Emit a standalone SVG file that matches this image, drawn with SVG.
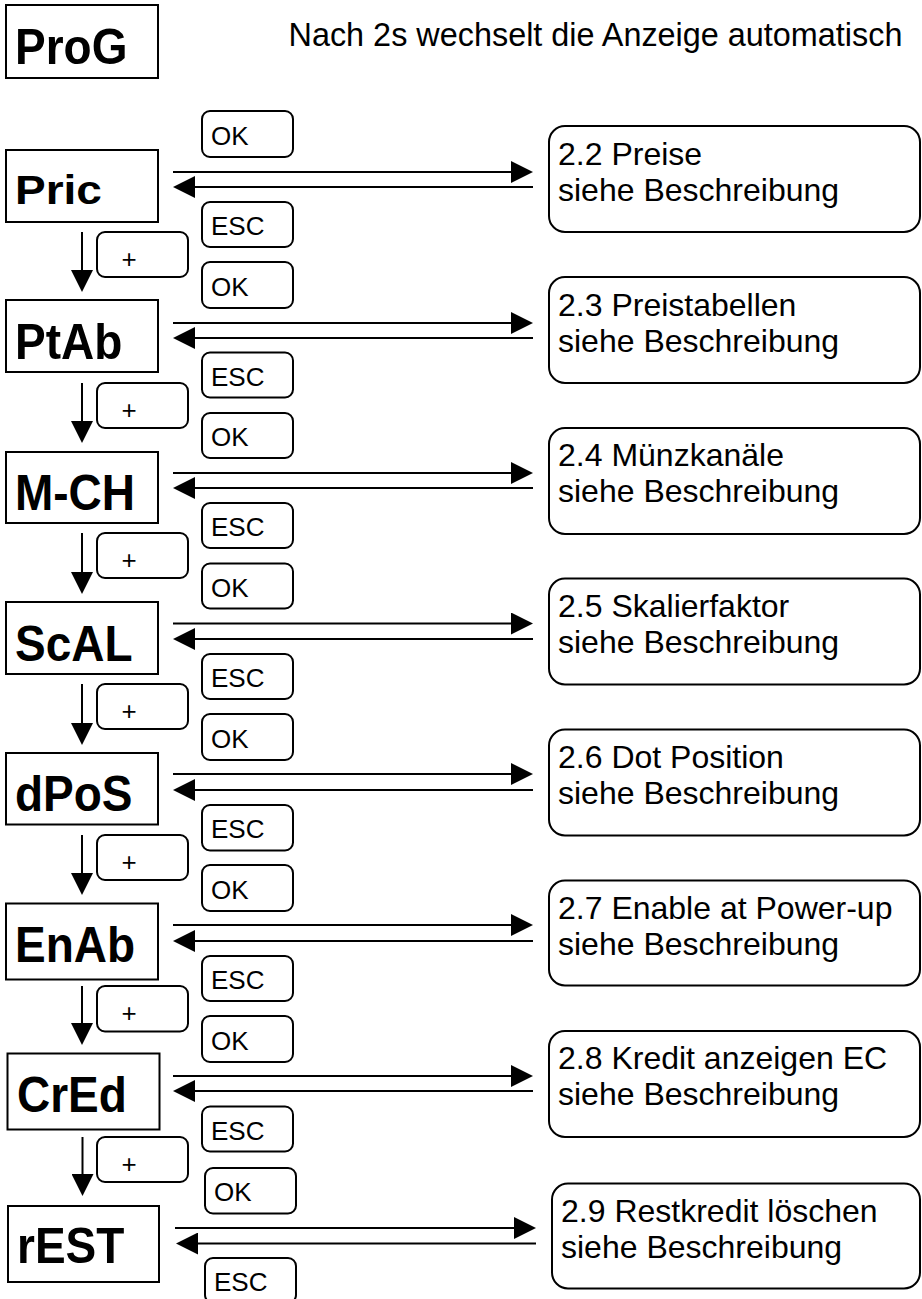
<svg xmlns="http://www.w3.org/2000/svg" width="922" height="1299" viewBox="0 0 922 1299">
<style>
.bg{fill:#fff}
.nb{fill:#fff;stroke:#000;stroke-width:2}
.btn{fill:#fff;stroke:#000;stroke-width:2}
.desc{fill:#fff;stroke:#000;stroke-width:2}
.nt{font-family:"Liberation Sans",Arial,sans-serif;font-weight:bold;font-size:46px;fill:#000}
.bt{font-family:"Liberation Sans",Arial,sans-serif;font-size:26px;fill:#000}
.dt{font-family:"Liberation Sans",Arial,sans-serif;font-size:32px;fill:#000}
.ht{font-family:"Liberation Sans",Arial,sans-serif;font-size:32.4px;fill:#000}
.ar{stroke:#000;stroke-width:2;fill:none;marker-end:url(#ah)}
</style>
<defs>
<marker id="ah" markerUnits="userSpaceOnUse" markerWidth="22" markerHeight="22" refX="12" refY="11" orient="auto">
<path d="M0,0 L22,11 L0,22 Z" fill="#000"/>
</marker>
</defs>
<rect class="bg" x="0" y="0" width="922" height="1299"/>

<g id="header">
<text class="ht" x="288.5" y="46">Nach 2s wechselt die Anzeige automatisch</text>
</g>

<g id="ProG">
<rect class="nb" x="6" y="5" width="152" height="73"/>
<text class="nt" transform="translate(15,64) scale(1,1.1)">ProG</text>
</g>

<g id="connectors">
<line class="ar" x1="173" y1="172" x2="523" y2="172"/>
<line class="ar" x1="533" y1="187" x2="183" y2="187"/>
<line class="ar" x1="82" y1="232" x2="82" y2="282"/>
<line class="ar" x1="173" y1="323" x2="523" y2="323"/>
<line class="ar" x1="533" y1="338" x2="183" y2="338"/>
<line class="ar" x1="82" y1="383" x2="82" y2="433"/>
<line class="ar" x1="173" y1="473" x2="523" y2="473"/>
<line class="ar" x1="533" y1="488" x2="183" y2="488"/>
<line class="ar" x1="82" y1="533" x2="82" y2="584"/>
<line class="ar" x1="173" y1="623.5" x2="523" y2="623.5"/>
<line class="ar" x1="533" y1="639" x2="183" y2="639"/>
<line class="ar" x1="82" y1="684" x2="82" y2="735"/>
<line class="ar" x1="173" y1="774" x2="523" y2="774"/>
<line class="ar" x1="533" y1="790" x2="183" y2="790"/>
<line class="ar" x1="82" y1="835" x2="82" y2="885"/>
<line class="ar" x1="173" y1="925" x2="523" y2="925"/>
<line class="ar" x1="533" y1="941" x2="183" y2="941"/>
<line class="ar" x1="82" y1="986" x2="82" y2="1035"/>
<line class="ar" x1="173" y1="1076" x2="523" y2="1076"/>
<line class="ar" x1="533" y1="1091" x2="183" y2="1091"/>
<line class="ar" x1="82.5" y1="1137" x2="82.5" y2="1186"/>
<line class="ar" x1="175" y1="1228" x2="526" y2="1228"/>
<line class="ar" x1="536" y1="1243.5" x2="186" y2="1243.5"/>
</g>

<g id="Pric">
<rect class="nb" x="6" y="150" width="152" height="72"/>
<text class="nt" transform="translate(15,204) scale(1,0.9)">Pric</text>
</g>
<g id="Pric-ok"><rect class="btn" x="202" y="111" width="91" height="46" rx="8"/><text class="bt" x="211" y="145">OK</text></g>
<g id="Pric-esc"><rect class="btn" x="202" y="202" width="91" height="45" rx="8"/><text class="bt" x="211" y="235">ESC</text></g>
<g id="Pric-plus"><rect class="btn" x="97" y="232" width="91" height="45" rx="8"/><text class="bt" x="129" y="268" text-anchor="middle">+</text></g>
<g id="Pric-desc"><rect class="desc" x="549" y="126" width="371" height="106" rx="16"/><text class="dt" x="558" y="165">2.2 Preise</text><text class="dt" x="558" y="201">siehe Beschreibung</text></g>

<g id="PtAb">
<rect class="nb" x="6" y="300" width="152" height="72"/>
<text class="nt" transform="translate(15,359) scale(1,1.1)">PtAb</text>
</g>
<g id="PtAb-ok"><rect class="btn" x="202" y="262" width="91" height="46" rx="8"/><text class="bt" x="211" y="296">OK</text></g>
<g id="PtAb-esc"><rect class="btn" x="202" y="352.5" width="91" height="45" rx="8"/><text class="bt" x="211" y="386">ESC</text></g>
<g id="PtAb-plus"><rect class="btn" x="97" y="383" width="91" height="45" rx="8"/><text class="bt" x="129" y="419" text-anchor="middle">+</text></g>
<g id="PtAb-desc"><rect class="desc" x="549" y="277" width="371" height="106" rx="16"/><text class="dt" x="558" y="316">2.3 Preistabellen</text><text class="dt" x="558" y="352">siehe Beschreibung</text></g>

<g id="M-CH">
<rect class="nb" x="6" y="452" width="152" height="71"/>
<text class="nt" transform="translate(15,509.5) scale(1,1.08)">M-CH</text>
</g>
<g id="M-CH-ok"><rect class="btn" x="202" y="413" width="91" height="45" rx="8"/><text class="bt" x="211" y="446">OK</text></g>
<g id="M-CH-esc"><rect class="btn" x="202" y="503" width="91" height="45" rx="8"/><text class="bt" x="211" y="536">ESC</text></g>
<g id="M-CH-plus"><rect class="btn" x="97" y="533" width="91" height="45" rx="8"/><text class="bt" x="129" y="569" text-anchor="middle">+</text></g>
<g id="M-CH-desc"><rect class="desc" x="549" y="428" width="371" height="106" rx="16"/><text class="dt" x="558" y="466">2.4 Münzkanäle</text><text class="dt" x="558" y="502">siehe Beschreibung</text></g>

<g id="ScAL">
<rect class="nb" x="6" y="602" width="152" height="72"/>
<text class="nt" transform="translate(15,660.5) scale(1,1.08)">ScAL</text>
</g>
<g id="ScAL-ok"><rect class="btn" x="202" y="563.5" width="91" height="45" rx="8"/><text class="bt" x="211" y="596.5">OK</text></g>
<g id="ScAL-esc"><rect class="btn" x="202" y="654" width="91" height="45" rx="8"/><text class="bt" x="211" y="687">ESC</text></g>
<g id="ScAL-plus"><rect class="btn" x="97" y="684" width="91" height="45" rx="8"/><text class="bt" x="129" y="720" text-anchor="middle">+</text></g>
<g id="ScAL-desc"><rect class="desc" x="549" y="578.5" width="371" height="106" rx="16"/><text class="dt" x="558" y="617">2.5 Skalierfaktor</text><text class="dt" x="558" y="653">siehe Beschreibung</text></g>

<g id="dPoS">
<rect class="nb" x="6" y="753" width="152" height="71.5"/>
<text class="nt" transform="translate(15,811) scale(1,1.07)">dPoS</text>
</g>
<g id="dPoS-ok"><rect class="btn" x="202" y="714" width="91" height="46" rx="8"/><text class="bt" x="211" y="747.5">OK</text></g>
<g id="dPoS-esc"><rect class="btn" x="202" y="805" width="91" height="45.5" rx="8"/><text class="bt" x="211" y="838">ESC</text></g>
<g id="dPoS-plus"><rect class="btn" x="97" y="835" width="91" height="45" rx="8"/><text class="bt" x="129" y="871" text-anchor="middle">+</text></g>
<g id="dPoS-desc"><rect class="desc" x="549" y="729.5" width="371" height="106" rx="16"/><text class="dt" x="558" y="767.5">2.6 Dot Position</text><text class="dt" x="558" y="803.5">siehe Beschreibung</text></g>

<g id="EnAb">
<rect class="nb" x="6" y="903.5" width="152" height="76"/>
<text class="nt" transform="translate(15,961.5) scale(1,1.07)">EnAb</text>
</g>
<g id="EnAb-ok"><rect class="btn" x="202" y="865" width="91" height="46" rx="8"/><text class="bt" x="211" y="898.5">OK</text></g>
<g id="EnAb-esc"><rect class="btn" x="202" y="956" width="91" height="45" rx="8"/><text class="bt" x="211" y="989">ESC</text></g>
<g id="EnAb-plus"><rect class="btn" x="97" y="986" width="91" height="45.5" rx="8"/><text class="bt" x="129" y="1022" text-anchor="middle">+</text></g>
<g id="EnAb-desc"><rect class="desc" x="549" y="880.5" width="371" height="105" rx="16"/><text class="dt" x="558" y="918.5">2.7 Enable at Power-up</text><text class="dt" x="558" y="954.5">siehe Beschreibung</text></g>

<g id="CrEd">
<rect class="nb" x="7.5" y="1053.5" width="152" height="76"/>
<text class="nt" transform="translate(17,1111.5) scale(1,1.07)">CrEd</text>
</g>
<g id="CrEd-ok"><rect class="btn" x="202" y="1016" width="91" height="46" rx="8"/><text class="bt" x="211" y="1049.5">OK</text></g>
<g id="CrEd-esc"><rect class="btn" x="202" y="1106.5" width="91" height="45" rx="8"/><text class="bt" x="211" y="1139.5">ESC</text></g>
<g id="CrEd-plus"><rect class="btn" x="97" y="1137" width="91" height="45" rx="8"/><text class="bt" x="129" y="1173" text-anchor="middle">+</text></g>
<g id="CrEd-desc"><rect class="desc" x="549" y="1031" width="371" height="106" rx="16"/><text class="dt" x="558" y="1069">2.8 Kredit anzeigen EC</text><text class="dt" x="558" y="1105">siehe Beschreibung</text></g>

<g id="rEST">
<rect class="nb" x="8" y="1206" width="151" height="76"/>
<text class="nt" transform="translate(17,1263) scale(1,1.1)">rEST</text>
</g>
<g id="rEST-ok"><rect class="btn" x="205" y="1168" width="91" height="45.5" rx="8"/><text class="bt" x="214" y="1201">OK</text></g>
<g id="rEST-esc"><rect class="btn" x="205" y="1258" width="91" height="45" rx="8"/><text class="bt" x="214" y="1291">ESC</text></g>
<g id="rEST-desc"><rect class="desc" x="552" y="1183.5" width="368" height="105" rx="16"/><text class="dt" x="561" y="1221.5">2.9 Restkredit löschen</text><text class="dt" x="561" y="1258">siehe Beschreibung</text></g>
</svg>
